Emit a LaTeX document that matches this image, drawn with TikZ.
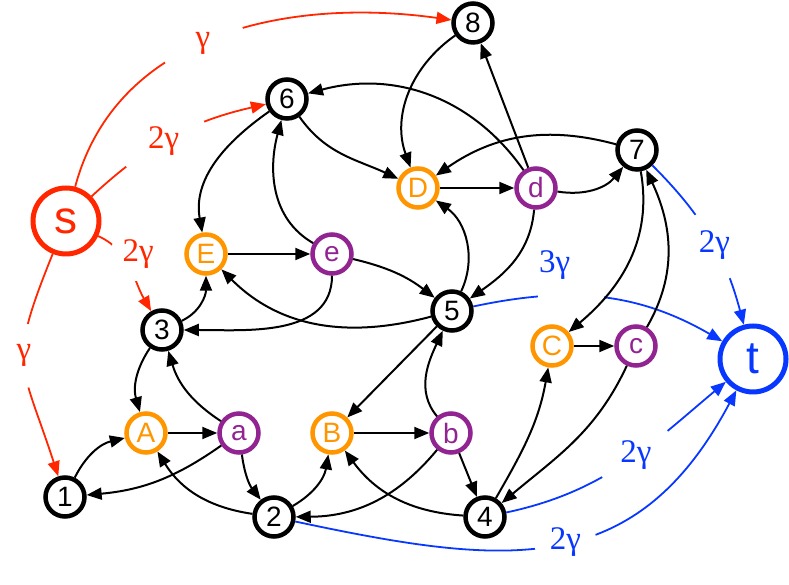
\documentclass[tikz,border=0pt]{standalone}
\usepackage{fontspec}
\setmainfont{Liberation Serif}
\newfontfamily\vfont{Liberation Sans}
\usepackage{tikz}
\usetikzlibrary{arrows.meta}
\definecolor{vorange}{RGB}{255,150,0}
\definecolor{vpurple}{RGB}{146,36,146}
\definecolor{sred}{RGB}{255,38,0}
\definecolor{tblue}{RGB}{8,56,255}

\begin{document}
\begin{tikzpicture}[
    x=1pt,y=1pt,
    v/.style={circle,draw=black,line width=4.5pt,minimum size=39pt,inner sep=0pt,font=\vfont\fontsize{28}{28}\selectfont},
    vo/.style={v,draw=vorange,text=vorange},
    vp/.style={v,draw=vpurple,text=vpurple},
    vst/.style={v,line width=5pt,minimum size=66pt,font=\vfont\fontsize{46}{46}\selectfont},
    e/.style={-{Triangle[length=15pt,width=12pt]},line width=2pt,black},
    es/.style={e,sred,line width=1.8pt},
    et/.style={e,tblue,line width=1.8pt},
    lbl/.style={font=\fontsize{33}{33}\selectfont},
    w/.style={lbl,circle,fill=white,inner sep=0pt},
    gap/.style={fill=white,inner sep=0pt,minimum width=66pt,minimum height=10pt}
  ]
    \useasboundingbox (0,0) rectangle (789,585);
    \node[vst,draw=sred,text=sred] (s) at (66,364) {s};
    \node[vst,draw=tblue,text=tblue] (t) at (753,226) {t};
    \node[v] (v1) at (65,88) {1};
    \node[v] (v2) at (274,68) {2};
    \node[v] (v3) at (162,255) {3};
    \node[v] (v4) at (485,68) {4};
    \node[v] (v5) at (452,274) {5};
    \node[v] (v6) at (287,486) {6};
    \node[v] (v7) at (637,435) {7};
    \node[v] (v8) at (473,562) {8};
    \node[vo] (vA) at (146,152) {A};
    \node[vp] (va) at (239,152) {a};
    \node[vo] (vB) at (332,152) {B};
    \node[vp] (vb) at (451,152) {b};
    \node[vo] (vC) at (552,239) {C};
    \node[vp] (vc) at (636,239) {c};
    \node[vo] (vD) at (418,397) {D};
    \node[vp] (vd) at (536,397) {d};
    \node[vo] (vE) at (206,331) {E};
    \node[vp] (ve) at (332,331) {e};
    % from s
    \draw[es] (s) to[out=75,in=172] node[w,pos=.46,minimum size=85pt,text=sred] {γ} (v8);
    \draw[es] (s) to[bend left=15] node[w,pos=.45,minimum size=90pt,text=sred] {2γ} (v6);
    \draw[es] (s) to[out=-25,in=120] node[w,pos=.5,xshift=8pt,yshift=14pt,minimum size=55pt,text=sred] {2γ} (v3);
    \draw[es] (s) to[out=248,in=108,looseness=1.4] node[w,pos=.45,minimum size=64pt,text=sred] {γ} (v1);
    % into t
    \draw[et] (v7) to[out=-45,in=105] node[w,pos=.55,minimum size=72pt,text=tblue] {2γ} (t);
    \draw[et] (v5) to[out=12,in=150] node[gap,pos=.37,label={[lbl,text=tblue,xshift=-16pt,label distance=6pt]above:3γ}] {} (t);
    \draw[et] (v4) to[out=12,in=220] node[w,pos=.56,minimum size=80pt,text=tblue] {2γ} (t);
    \draw[et] (v2) to[out=-12,in=242,looseness=1.2] node[w,pos=.52,minimum size=62pt,text=tblue] {2γ} (t);
    % upper part
    \draw[e] (v8) to[out=215,in=110] (vD); \draw[e] (vd) -- (v8);
    \draw[e] (v6) to[out=-55,in=155] (vD); \draw[e] (vd) to[out=125,in=15] (v6);
    \draw[e] (v6) to[out=215,in=100] (vE); \draw[e] (ve) to[out=150,in=-105] (v6);
    \draw[e] (vE) -- (ve); \draw[e] (ve) to[bend left=12] (v5);
    \draw[e] (v5) to[out=195,in=-45] (vE);
    \draw[e] (ve) to[out=-90,in=0] (v3); \draw[e] (v3) to[out=25,in=-90] (vE);
    \draw[e] (v5) to[out=65,in=-35] (vD); \draw[e] (vD) -- (vd);
    \draw[e] (vd) to[bend right=30] (v7); \draw[e] (v7) to[bend right=25] (vD);
    \draw[e] (vd) to[out=-95,in=35] (v5);
    % right part
    \draw[e] (v7) to[out=-80,in=40] (vC); \draw[e] (vc) to[out=60,in=-65] (v7);
    \draw[e] (vC) -- (vc);
    \draw[e] (vc) to[out=-115,in=40] (v4); \draw[e] (v4) to[out=60,in=-100] (vC);
    % lower part
    \draw[e] (v5) -- (vB); \draw[e] (vb) to[out=130,in=-115] (v5);
    \draw[e] (vB) -- (vb); \draw[e] (vb) -- (v4);
    \draw[e] (v4) to[bend left=25] (vB); \draw[e] (vb) to[bend left=25] (v2);
    \draw[e] (v2) to[bend right=25] (vB);
    \draw[e] (va) to[bend right=15] (v2); \draw[e] (v2) to[bend left=25] (vA);
    \draw[e] (va) to[bend left=20] (v3); \draw[e] (v3) to[bend right=25] (vA);
    \draw[e] (vA) -- (va);
    \draw[e] (va) to[bend left=15] (v1); \draw[e] (v1) to[bend left=25] (vA);
  \end{tikzpicture}
\end{document}
